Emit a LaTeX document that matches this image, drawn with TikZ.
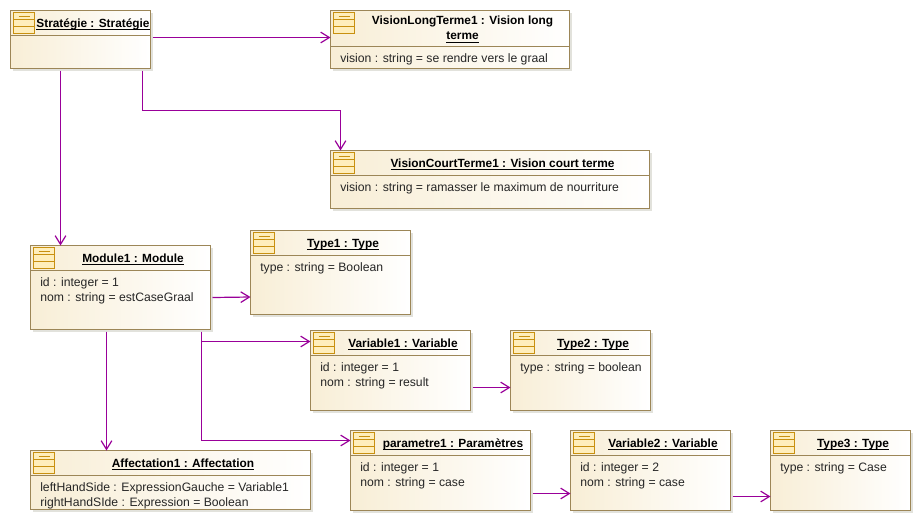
\documentclass[tikz,border=0pt]{standalone}
\usepackage{fontspec}
\setmainfont{Liberation Sans}
\usetikzlibrary{arrows.meta, positioning}

\definecolor{linkpurple}{RGB}{153,0,153}
\definecolor{boxedge}{RGB}{156,134,87}
\definecolor{boxleft}{RGB}{248,238,214}
\definecolor{boxshadow}{RGB}{226,226,220}
\definecolor{iconedge}{RGB}{200,144,16}
\definecolor{iconfill}{RGB}{255,238,187}

\newcommand{\objul}[1]{\underline{\smash{#1}}}

\tikzset{
  objbox/.style={draw=boxedge, line width=0.9pt, anchor=north west, outer sep=0pt, inner sep=0pt,
    left color=boxleft, right color=white},
  objtitle/.style={font=\fontsize{8.9}{11.25}\selectfont\bfseries, align=center, inner sep=0pt, anchor=base},
  objattrs/.style={font=\fontsize{9.15}{11.25}\selectfont, align=left, anchor=north west, inner sep=0pt,
    text=black!85},
  objicon/.style={draw=iconedge, fill=iconfill, line width=0.9pt},
  link/.style={draw=linkpurple, line width=0.9pt, -{Straight Barb[length=6.5pt,width=8pt]}}
}

% name, left, top, width, height, header height, title, attributes
\newcommand{\objbox}[8]{
  \fill[boxshadow] (#2+2,#3+2) rectangle (#2+#4+2,#3+#5+2);
  \node[objbox, minimum width=#4*0.75pt, minimum height=#5*0.75pt] (#1) at (#2,#3) {};
  \draw[boxedge, line width=0.9pt] (#2,#3+#6) -- (#2+#4,#3+#6);
  \draw[objicon] (#2+3,#3+2) rectangle (#2+24,#3+23);
  \draw[iconedge, line width=0.75pt] (#2+3,#3+9) -- (#2+24,#3+9) (#2+3,#3+16) -- (#2+24,#3+16)
    (#2+8,#3+5.5) -- (#2+19,#3+5.5);
  \node[objtitle] (#1-title) at (#2+25+#4/2-12.5,#3+#6*1.18-13) {#7};
  \begin{scope}
    \clip (#1.south west) rectangle (#1.north east);
    \node[objattrs] (#1-attrs) at (#2+9.5,#3+#6+7) {#8};
  \end{scope}
}

\begin{document}
\begin{tikzpicture}[x=0.75pt, y=-0.75pt]
\useasboundingbox (0,0) rectangle (921,522);

% Strategy and its two visions
\objbox{strategie}{10.5}{10.5}{140}{58}{25}{\objul{Stratégie : Stratégie}}{}
\objbox{visionlong}{330.5}{10.5}{239}{58}{36}{VisionLongTerme1 : Vision long\\\objul{terme}}{vision : string = se rendre vers le graal}
\objbox{visioncourt}{330.5}{150.5}{319}{58}{25}{\objul{VisionCourtTerme1 : Vision court terme}}{vision : string = ramasser le maximum de nourriture}

% Module and types
\objbox{module}{30.5}{245.5}{180}{84}{25}{\objul{Module1 : Module}}{id : integer = 1\\nom : string = estCaseGraal}
\objbox{type1}{250.5}{230.5}{160}{84}{25}{\objul{Type1 : Type}}{type : string = Boolean}
\objbox{variable1}{310.5}{330.5}{160}{80}{25}{\objul{Variable1 : Variable}}{id : integer = 1\\nom : string = result}
\objbox{type2}{510.5}{330.5}{140}{80}{25}{\objul{Type2 : Type}}{type : string = boolean}

% Bottom row
\objbox{affectation}{30.5}{450.5}{280}{59}{25}{\objul{Affectation1 : Affectation}}{leftHandSide : ExpressionGauche = Variable1\\rightHandSIde : Expression = Boolean}
\objbox{parametre1}{350.5}{430.5}{180}{80}{25}{\objul{parametre1 : Paramètres}}{id : integer = 1\\nom : string = case}
\objbox{variable2}{570.5}{430.5}{160}{80}{25}{\objul{Variable2 : Variable}}{id : integer = 2\\nom : string = case}
\objbox{type3}{770.5}{430.5}{140}{80}{25}{\objul{Type3 : Type}}{type : string = Case}

% Links
\draw[link] ([shift={(2,-2)}]strategie.east) -- ([shift={(0,-2)}]visionlong.west);
\draw[link] ([shift={(132,2)}]strategie.south west) -- ++(0,40) -| ([shift={(10,0)}]visioncourt.north west);
\draw[link] ([shift={(50,2)}]strategie.south west) -- ([shift={(30,0)}]module.north west);
\draw[link] ([shift={(2,10)}]module.east) -- ([shift={(0,24.5)}]type1.west);
\draw[link] ([shift={(-9,2)}]module.south east) |- ([shift={(0,-29)}]variable1.west);
\draw[link] ([shift={(-9,2)}]module.south east) |- ([shift={(0,-30)}]parametre1.west);
\draw[link] ([shift={(76,2)}]module.south west) -- ([shift={(76,0)}]affectation.north west);
\draw[link] ([shift={(2,17)}]variable1.east) -- ([shift={(0,17)}]type2.west);
\draw[link] ([shift={(2,23)}]parametre1.east) -- ([shift={(0,23)}]variable2.west);
\draw[link] ([shift={(2,26)}]variable2.east) -- ([shift={(0,26)}]type3.west);

\end{tikzpicture}
\end{document}
